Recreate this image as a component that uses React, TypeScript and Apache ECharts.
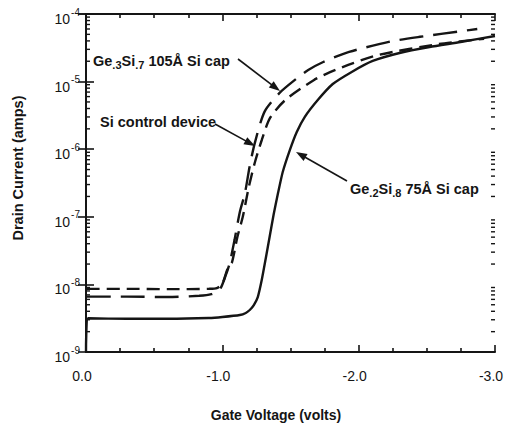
import React, { useEffect, useRef } from "react";
import * as echarts from "echarts";

// Gate voltage (V) and drain current (A)
const ge2Volts = [0, -0.015, -0.3, -0.6, -0.9, -1.0, -1.128, -1.172, -1.201, -1.231, -1.26, -1.289, -1.319, -1.348, -1.377, -1.407, -1.443, -1.495, -1.546, -1.604, -1.7, -1.81, -1.949, -2.103, -2.3, -2.52, -2.747, -3.0];
const ge2Amps = [1e-9, 3.15e-9, 3.1e-9, 3.1e-9, 3.18e-9, 3.29e-9, 3.52e-9, 3.78e-9, 4.18e-9, 4.95e-9, 6.5e-9, 1.16e-8, 2.46e-8, 5.2e-8, 1.1e-7, 2.17e-7, 4.6e-7, 9.7e-7, 1.8e-6, 2.99e-6, 5.34e-6, 9.2e-6, 1.39e-5, 2.02e-5, 2.65e-5, 3.25e-5, 3.85e-5, 4.73e-5];

const ge3Volts = [-0.005, -0.3, -0.6, -0.83, -0.92, -0.98, -1.026, -1.055, -1.09, -1.128, -1.165, -1.2, -1.238, -1.31, -1.42, -1.53, -1.63, -1.74, -1.93, -2.23, -2.45, -2.76, -2.87];
const ge3Amps = [6.6e-9, 6.6e-9, 6.5e-9, 6.8e-9, 7.2e-9, 8.3e-9, 1.38e-8, 2.1e-8, 4.6e-8, 1.17e-7, 2.2e-7, 5.5e-7, 1.23e-6, 3.6e-6, 6.8e-6, 1.05e-5, 1.48e-5, 1.95e-5, 2.75e-5, 3.9e-5, 4.6e-5, 5.6e-5, 6.0e-5];

const siVolts = [-0.005, -0.3, -0.6, -0.9, -0.96, -1.0, -1.04, -1.07, -1.11, -1.15, -1.194, -1.238, -1.29, -1.35, -1.46, -1.67, -1.79, -1.96, -2.15, -2.59, -2.92];
const siAmps = [8.6e-9, 8.6e-9, 8.5e-9, 8.6e-9, 8.8e-9, 1.02e-8, 1.74e-8, 2.1e-8, 5.0e-8, 1.0e-7, 2.75e-7, 6.3e-7, 1.38e-6, 2.9e-6, 5.3e-6, 1.05e-5, 1.38e-5, 1.88e-5, 2.5e-5, 3.6e-5, 4.3e-5];

// Axis ticks
const xTickLabels = ["0.0", "-1.0", "-2.0", "-3.0"];
const decadeExponents = [-9, -8, -7, -6, -5, -4];
const minorMantissas = [2, 3, 4, 5, 6, 7, 8, 9];

const FONT = "'Liberation Sans', Arial, Helvetica, sans-serif";
const INK = "#151515";

function pairs(xs: number[], ys: number[]) {
  return xs.map((x, i) => [x, ys[i]]);
}

function arrow(x1: number, y1: number, x2: number, y2: number) {
  const dx = x2 - x1, dy = y2 - y1;
  const len = Math.sqrt(dx * dx + dy * dy);
  const ux = dx / len, uy = dy / len;
  const nx = -uy, ny = ux;
  const L = 11, W = 4;
  const bx = x2 - L * ux, by = y2 - L * uy;
  return [
    { type: "line", shape: { x1, y1, x2: bx + ux * 2, y2: by + uy * 2 }, style: { stroke: INK, lineWidth: 1.6 }, silent: true },
    { type: "polygon", shape: { points: [[x2, y2], [bx + W * nx, by + W * ny], [bx - W * nx, by - W * ny]] }, style: { fill: INK }, silent: true },
  ];
}

export default function App() {
  const ref = useRef<HTMLDivElement>(null);
  useEffect(() => {
    document.body.style.margin = "0";
    const chart = echarts.init(ref.current!, null, { renderer: "svg" });
    const minorData: number[][] = [];
    decadeExponents.slice(0, -1).forEach((e) => minorMantissas.forEach((m) => minorData.push([0, m * Math.pow(10, e)])));

    const baseX = {
      type: "value",
      min: -3,
      max: 0,
      interval: 1,
      inverse: true,
      axisLine: { show: true, lineStyle: { color: INK, width: 2 } },
      axisTick: { show: true, inside: true, length: 7, lineStyle: { color: INK, width: 1.6 } },
      minorTick: { show: true, splitNumber: 4, length: 4, lineStyle: { color: INK, width: 1.6 } },
      splitLine: { show: false },
      minorSplitLine: { show: false },
    };
    const baseY = {
      type: "log",
      logBase: 10,
      min: 1e-9,
      max: 1e-4,
      axisLine: { show: true, lineStyle: { color: INK, width: 2 } },
      axisTick: { show: true, inside: true, length: 8, lineStyle: { color: INK, width: 1.6 } },
      splitLine: { show: false },
    };

    const text = (t: string, x: number, y: number, extra: any = {}) => ({
      type: "text",
      x,
      y,
      silent: true,
      style: {
        text: t,
        fill: INK,
        fontFamily: FONT,
        fontSize: 14.5,
        fontWeight: "bold",
        verticalAlign: "middle",
        ...extra,
      },
    });
    const richSub = {
      n: { fontSize: 14.5, fontWeight: "bold", fontFamily: FONT, fill: INK, verticalAlign: "middle" },
      s: { fontSize: 11, fontWeight: "bold", fontFamily: FONT, fill: INK, verticalAlign: "middle", padding: [8, 0, 0, 0] },
    };

    chart.setOption({
      animation: false,
      backgroundColor: "#ffffff",
      grid: { left: 86, right: 12, top: 14, bottom: 75 },
      xAxis: [
        {
          ...baseX,
          position: "bottom",
          axisLabel: {
            show: true,
            margin: 17,
            color: INK,
            fontFamily: FONT,
            fontSize: 14,
            padding: [0, 8, 0, 0],
            formatter: (v: number) => xTickLabels[Math.round(-v)] ?? "",
          },
        },
        { ...baseX, position: "top", axisLabel: { show: false } },
      ],
      yAxis: [
        {
          ...baseY,
          position: "left",
          axisLabel: {
            show: true,
            margin: 6,
            formatter: (v: number) => `{b|10}{s|${Math.round(Math.log10(v))}}`,
            rich: {
              b: { fontSize: 14, fontFamily: FONT, color: INK, padding: [10, 0, 0, 0] },
              s: { fontSize: 10, fontFamily: FONT, color: INK, padding: [0, 0, 4, 1] },
            },
          },
        },
        { ...baseY, position: "right", axisLabel: { show: false } },
      ],
      series: [
        {
          name: "Ge.2Si.8 75Å Si cap",
          type: "line",
          data: pairs(ge2Volts, ge2Amps),
          showSymbol: false,
          smooth: 0.2,
          lineStyle: { color: INK, width: 2.4, type: "solid" },
          z: 3,
        },
        {
          name: "Ge.3Si.7 105Å Si cap",
          type: "line",
          data: pairs(ge3Volts, ge3Amps),
          showSymbol: false,
          smooth: 0.25,
          lineStyle: { color: INK, width: 2.4, type: [24, 10] },
          z: 3,
        },
        {
          name: "Si control device",
          type: "line",
          data: pairs(siVolts, siAmps),
          showSymbol: false,
          smooth: 0.25,
          lineStyle: { color: INK, width: 2.4, type: [13, 7] },
          z: 3,
        },
        {
          name: "minor ticks",
          type: "custom",
          silent: true,
          clip: false,
          xAxisIndex: 0,
          yAxisIndex: 0,
          encode: { x: 0, y: 1 },
          data: minorData,
          renderItem: (params: any, api: any) => {
            const v = api.value(1);
            const l = api.coord([0, v]);
            const r = api.coord([-3, v]);
            return {
              type: "group",
              children: [
                { type: "line", shape: { x1: l[0], y1: l[1], x2: l[0] + 4, y2: l[1] }, style: { stroke: INK, lineWidth: 1.4 } },
                { type: "line", shape: { x1: r[0], y1: r[1], x2: r[0] - 4, y2: r[1] }, style: { stroke: INK, lineWidth: 1.4 } },
              ],
            };
          },
          z: 4,
        },
      ],
      graphic: [
        text("Drain Current (amps)", 18, 168, { align: "center" }),
        text("Gate Voltage (volts)", 276, 415, { fontSize: 14, align: "center" }),
        text("{n|Ge}{s|.3}{n|Si}{s|.7}{n| 105Å Si cap}", 93, 61, { rich: richSub }),
        text("Si control device", 100, 122),
        text("{n|Ge}{s|.2}{n|Si}{s|.8}{n| 75Å Si cap}", 350, 189, { rich: richSub }),
        ...arrow(238, 59, 280, 91),
        ...arrow(215, 124, 255, 146),
        ...arrow(347, 181, 296, 152),
      ].map((g: any, i: number) => (i === 0 ? { ...g, rotation: Math.PI / 2 } : g)),
    });
    return () => chart.dispose();
  }, []);
  return <div ref={ref} style={{ width: 507, height: 427 }} />;
}
